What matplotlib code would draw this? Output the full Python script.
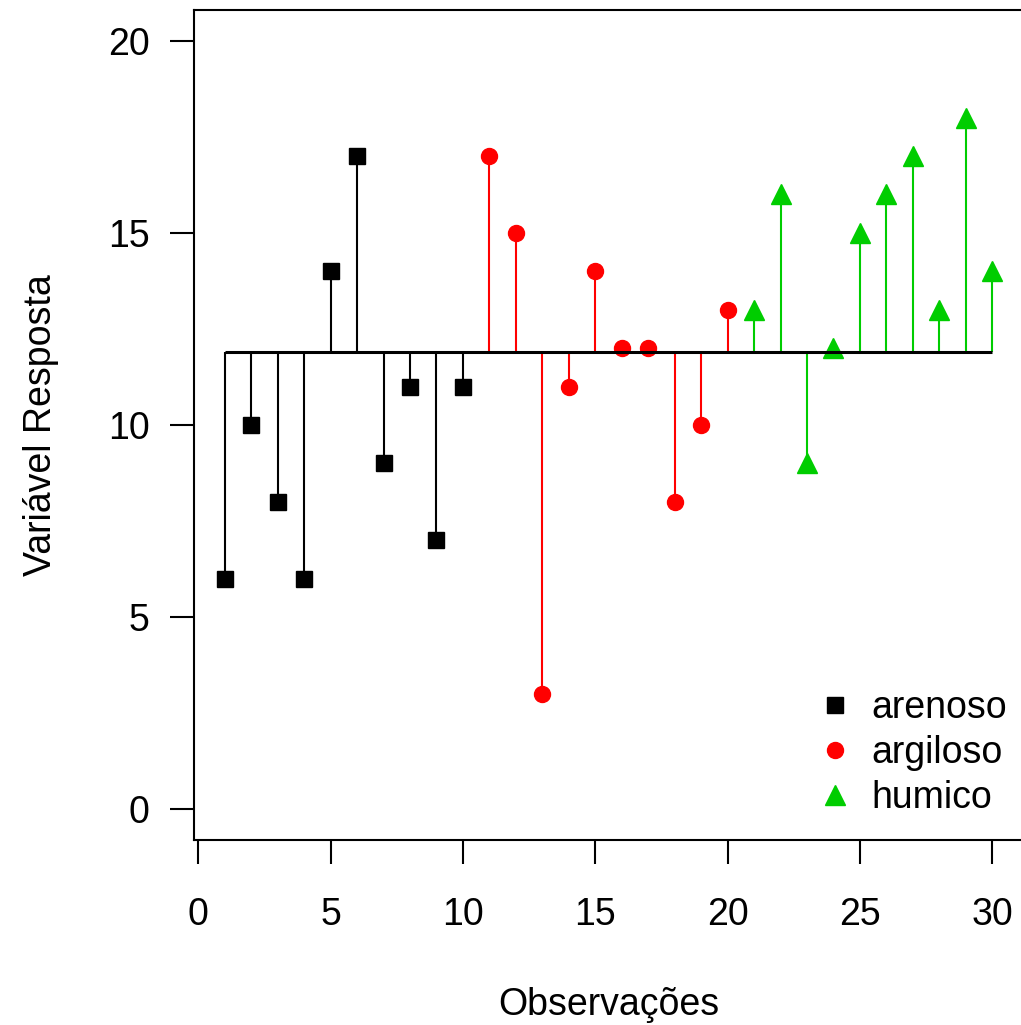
import numpy as np
import matplotlib
matplotlib.use('Agg')
import matplotlib.pyplot as plt

plt.rcParams['font.family'] = ['Liberation Sans', 'DejaVu Sans']

# respostas por tipo de solo
arenoso = [6, 10, 8, 6, 14, 17, 9, 11, 7, 11]
argiloso = [17, 15, 3, 11, 14, 12, 12, 8, 10, 13]
humico = [13, 16, 9, 12, 15, 16, 17, 13, 18, 14]
grupos = ['arenoso', 'argiloso', 'humico']
cores = ['black', '#FF0000', '#00CD00']
marcadores = ['s', 'o', '^']
tamanhos = [12, 11.5, 15]

y = np.array(arenoso + argiloso + humico, dtype=float)
obs = np.arange(1, len(y) + 1)
media = y.mean()

W, H = 1021, 1025
fig = plt.figure(figsize=(W / 100, H / 100), dpi=100)
ax = fig.add_axes([194 / W, (H - 840) / H, (1023 - 194) / W, (840 - 10) / H])

n = len(arenoso)
for k, (nome, cor, mk, ms) in enumerate(zip(grupos, cores, marcadores, tamanhos)):
    xs = obs[k * n:(k + 1) * n]
    ys = y[k * n:(k + 1) * n]
    ax.vlines(xs, media, ys, color=cor, lw=1.5, zorder=2)
    ax.plot(xs, ys, ls='none', marker=mk, ms=ms, color=cor, mec=cor,
            label=nome, zorder=3)

ax.hlines(media, obs[0], obs[-1], color='black', lw=2.2, zorder=4)

ax.set_xlim(-0.16, 31.16)
ax.set_ylim(-0.8, 20.8)
ax.set_xticks(np.arange(0, 31, 5))
ax.set_yticks(np.arange(0, 21, 5))
for s in ax.spines.values():
    s.set_linewidth(1.5)
ax.tick_params(axis='both', length=17, width=1.5, labelsize=27)
ax.tick_params(axis='x', pad=24)
ax.tick_params(axis='y', pad=15)

ax.set_xlabel('Observações', fontsize=27, labelpad=39)
ax.set_ylabel('Variável Resposta', fontsize=27, labelpad=35)

ax.legend(loc='upper left', bbox_to_anchor=(816 / W, (H - 690) / H),
          bbox_transform=fig.transFigure, frameon=False, fontsize=27,
          handlelength=1.0, handletextpad=0.48, labelspacing=0.24,
          borderpad=0, borderaxespad=0)

fig.savefig('out.png', dpi=100)
